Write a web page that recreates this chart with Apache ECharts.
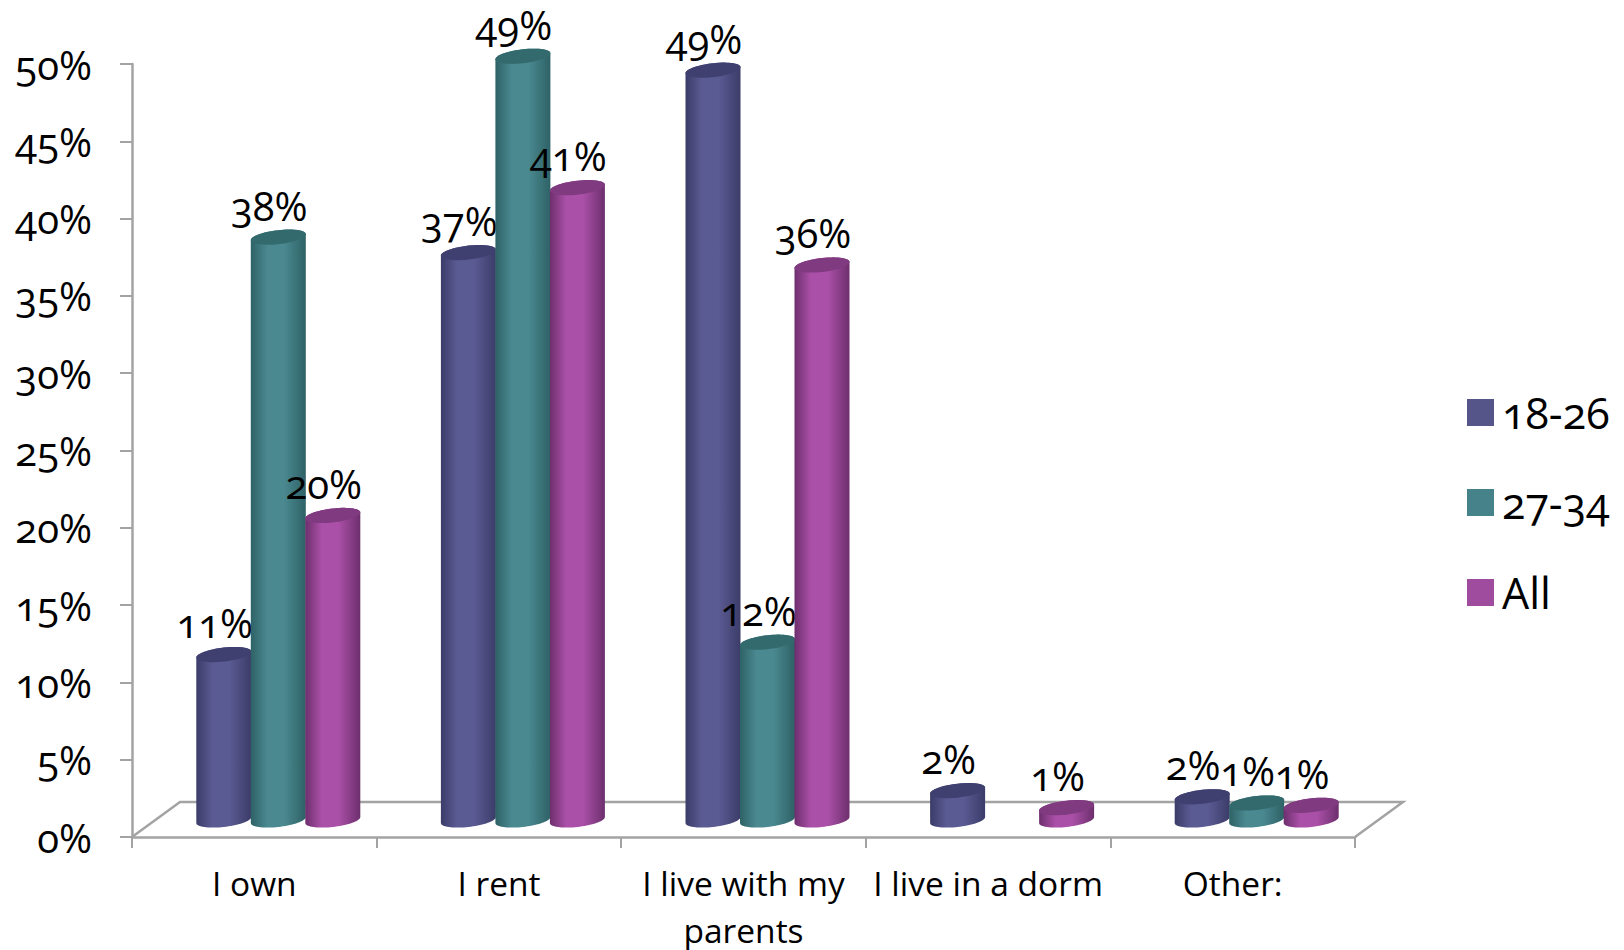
<!DOCTYPE html>
<html><head><meta charset="utf-8">
<style>html,body{margin:0;padding:0;background:#fff}#c{width:1624px;height:950px}
#c text{font-feature-settings:"onum" 1;font-variant-numeric:oldstyle-nums}</style>
<script src="https://cdn.jsdelivr.net/npm/echarts@6/dist/echarts.min.js"></script></head>
<body><div id="c"></div><script>
const categories=['I own','I rent','I live with my\nparents','I live in a dorm','Other:'];
const yTicks=[0,5,10,15,20,25,30,35,40,45,50];
const seriesNames=['18-26','27-34','All'];
const values1826=[10.7,36.7,48.5,1.9,1.5];
const values2734=[37.7,49.4,11.5,null,1.1];
const valuesAll=[19.7,40.9,35.9,0.8,0.95];
const allValues=[values1826,values2734,valuesAll];
const FONT='"Open Sans"';
const palette=[
 {edge:'#3b3c68',mid:'#5b5b94',top:'#3f4070',legend:'#55558a'},
 {edge:'#2e6266',mid:'#4a8990',top:'#336a6e',legend:'#46828a'},
 {edge:'#6d2f6d',mid:'#ab50a8',top:'#803a80',legend:'#a04c9e'}];
const DX=24,DY=-17,A=27.5,B=7,TILT=3,STEP=54.5,GREY='#a3a3a3';
function ell(cx,cy,from,to,n){const p=[];for(let i=0;i<=n;i++){const t=from+(to-from)*i/n;
 p.push([cx+A*Math.cos(t),cy+B*Math.sin(t)-TILT*Math.cos(t)]);}return p;}
function cyl(si){return function(params,api){
 const v=api.value(1);if(v==null||isNaN(v))return;
 const c=palette[si];
 const base=api.coord([api.value(0),0]),top=api.coord([api.value(0),v]);
 const cx=base[0]+DX+(si-1)*STEP,by=base[1]+DY,ty=top[1]+DY;
 const body=ell(cx,by,Math.PI,0,36).concat(ell(cx,ty,0,-Math.PI,36));
 return {type:'group',children:[
  {type:'polygon',shape:{points:body},style:{fill:{type:'linear',x:0,y:0,x2:1,y2:0,colorStops:[
    {offset:0,color:c.edge},{offset:.3,color:c.mid},{offset:.6,color:c.mid},{offset:1,color:c.edge}]}}},
  {type:'polygon',shape:{points:ell(cx,ty,0,Math.PI*2,60)},style:{fill:c.top}},
  {type:'text',x:cx-9,y:ty-32,style:{text:Math.round(v)+'%',fontSize:40,fontFamily:FONT,fill:'#000',align:'center',verticalAlign:'middle'}}
 ]};
};}
function floor(params,api){
 if(params.dataIndex>0)return;
 const a=api.coord([0,0]);a[0]-=api.size([1,0])[0]/2;
 const b=[a[0]+api.size([1,0])[0]*categories.length,a[1]];
 const bx=2*DX,by=2*DY-1;
 const st={fill:'none',stroke:GREY,lineWidth:2.5};
 return {type:'polyline',shape:{points:[a,[a[0]+bx,a[1]+by],[b[0]+bx,b[1]+by],b]},style:st};
}
const series=[{type:'custom',silent:true,data:categories.map((_,i)=>[i,0]),renderItem:floor,encode:{x:0,y:1},z:1,clip:false}];
seriesNames.forEach((n,i)=>series.push({name:n,type:'custom',clip:false,z:2+i,silent:true,
 itemStyle:{color:palette[i].legend},encode:{x:0,y:1},renderItem:cyl(i),
 data:allValues[i].map((v,k)=>[k,v])}));
const chart=echarts.init(document.getElementById('c'),null,{renderer:'svg'});
chart.setOption({animation:false,backgroundColor:'#fff',
 grid:{left:132,right:269,top:64,bottom:113,outerBoundsMode:'none'},
 legend:{orient:'vertical',left:1467,top:391,padding:0,itemWidth:27,itemHeight:27,itemGap:47,icon:'rect',data:seriesNames,
  selectedMode:false,textStyle:{fontSize:43,lineHeight:27,fontFamily:FONT,color:'#000',padding:[0,0,0,3]}},
 xAxis:{type:'category',data:categories,axisLine:{show:true,lineStyle:{color:GREY,width:2.5}},
  axisTick:{show:true,alignWithLabel:false,interval:0,length:11,lineStyle:{color:GREY,width:2}},
  axisLabel:{color:'#000',fontSize:33.5,fontFamily:FONT,margin:22,lineHeight:47,interval:0}},
 yAxis:{type:'value',min:0,max:50,interval:5,splitLine:{show:false},
  axisLine:{show:true,lineStyle:{color:GREY,width:2.5}},
  axisTick:{show:true,length:12,lineStyle:{color:GREY,width:2}},
  axisLabel:{color:'#000',fontSize:40,fontFamily:FONT,margin:40,formatter:v=>yTicks.includes(v)?v+'%':''}},
 series});
</script></body></html>
